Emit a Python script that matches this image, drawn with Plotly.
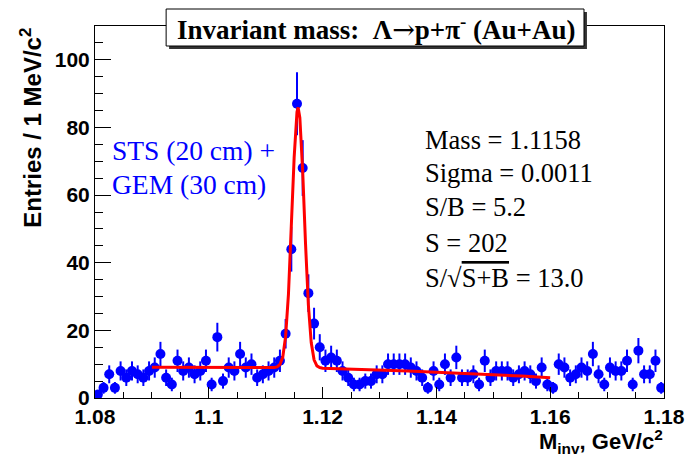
import numpy as np
import plotly.graph_objects as go

# ---- data ----
hist_low = 1.080      # GeV/c^2, lower edge of first bin
bin_width = 0.001     # 1 MeV bins
counts = [1, 3, 7, 3, 8, 6, 8, 7, 6, 8,
          9, 13, 6, 4, 11, 8, 9, 7, 8, 11,
          4, 18, 5, 9, 8, 13, 9, 10, 6, 7,
          8, 9, 11, 19, 44, 87, 68, 31, 22, 15,
          11, 12, 11, 8, 6, 4, 4, 5, 5, 7,
          7, 10, 10, 10, 10, 9, 8, 6, 3, 8,
          4, 10, 6, 12, 6, 6, 7, 4, 11, 6,
          8, 8, 8, 6, 7, 8, 7, 5, 9, 4,
          3, 10, 9, 6, 7, 9, 8, 13, 7, 4,
          9, 8, 8, 11, 4, 14, 7, 7, 11, 3]

fit_x = [1.090, 1.100, 1.105, 1.110, 1.1115, 1.112, 1.1125, 1.113, 1.1135, 1.114,
         1.1145, 1.115, 1.1155, 1.1157, 1.116, 1.1165, 1.117, 1.1175, 1.118, 1.1185,
         1.119, 1.1195, 1.120, 1.125, 1.130, 1.135, 1.140, 1.145, 1.150, 1.155, 1.160]
fit_y = [9.1, 9.05, 9.0, 9.0, 9.0, 9.2, 9.9, 12.1, 18.2, 30.7,
         50.0, 71.1, 84.6, 85.9, 82.9, 67.0, 45.6, 27.5, 16.4, 11.3,
         9.5, 9.0, 8.8, 8.6, 8.4, 8.0, 7.6, 7.3, 6.9, 6.5, 6.0]

x_ticks = [1.08, 1.10, 1.12, 1.14, 1.16, 1.18]
x_labels = ["1.08", "1.1", "1.12", "1.14", "1.16", "1.18"]
y_ticks = [0, 20, 40, 60, 80, 100]
y_labels = ["0", "20", "40", "60", "80", "100"]

title_text = ("<b>Invariant mass:  Λ<span style='font-family:DejaVu Serif;font-weight:normal'>→</span>"
              "p+π<sup>-</sup> (Au+Au)</b>")
stats_lines = ["Mass = 1.1158", "Sigma = 0.0011", "S/B = 5.2", "S = 202",
               "S/√<span style='text-decoration:overline'>S+B</span> = 13.0"]
label_lines = ["STS (20 cm) +", "GEM (30 cm)"]

# ---- derived ----
centers = hist_low + bin_width * (np.arange(len(counts)) + 0.5)
errors = np.sqrt(np.array(counts, dtype=float))

BLUE = "#0000ff"
RED = "#ff0000"
SANS = "Liberation Sans"
SERIF = "Liberation Serif"

fig = go.Figure()
fig.add_trace(go.Scatter(
    x=centers, y=counts, mode="markers",
    marker=dict(color=BLUE, size=10, symbol="circle"),
    error_y=dict(type="data", array=errors, visible=True, color=BLUE,
                 thickness=2, width=0),
    showlegend=False, hoverinfo="skip"))
fig.add_trace(go.Scatter(
    x=fit_x, y=fit_y, mode="lines",
    line=dict(color=RED, width=3),
    showlegend=False, hoverinfo="skip"))

W, H = 697, 459
L, R, T, B = 95, 26, 26, 61
pw, ph = W - L - R, H - T - B


def px(xp):
    return (xp - L) / pw


def py(yp):
    return (H - B - yp) / ph


axis_common = dict(showline=True, linecolor="black", linewidth=1, mirror=True,
                   ticks="inside", tickcolor="black", showgrid=False,
                   zeroline=False,
                   tickfont=dict(family=SANS, size=21, color="black", weight="bold"))

fig.update_xaxes(range=[1.08, 1.18], tickvals=x_ticks, ticktext=x_labels,
                 ticklen=11, tickwidth=1,
                 minor=dict(ticks="inside", dtick=0.005, ticklen=6,
                            tickcolor="black", tickwidth=1),
                 **axis_common)
fig.update_yaxes(range=[0, 110], tickvals=y_ticks, ticktext=y_labels,
                 ticklen=16, tickwidth=1,
                 minor=dict(ticks="inside", dtick=5, ticklen=8,
                            tickcolor="black", tickwidth=1),
                 **axis_common)

shapes = [
    # title box shadow
    dict(type="rect", xref="paper", yref="paper",
         x0=px(170), x1=px(593), y0=py(49), y1=py(12),
         fillcolor="#333333", line=dict(width=0), layer="above"),
    # title box
    dict(type="rect", xref="paper", yref="paper",
         x0=px(167), x1=px(590), y0=py(46), y1=py(9),
         fillcolor="white", line=dict(color="black", width=1), layer="above"),
]

annotations = [
    dict(text=title_text, xref="paper", yref="paper", x=px(379), y=py(28),
         xanchor="center", yanchor="middle", showarrow=False,
         font=dict(family=SERIF, size=27, color="black")),
    dict(text="<b>Entries / 1 MeV/c<sup>2</sup></b>", xref="paper", yref="paper",
         x=px(30), y=py(26), xanchor="center", yanchor="top", textangle=-90,
         showarrow=False, font=dict(family=SANS, size=24, color="black")),
    dict(text="<b>M<sub>inv</sub>, GeV/c<sup>2</sup></b>", xref="paper", yref="paper",
         x=px(672), y=py(442), xanchor="right", yanchor="middle",
         showarrow=False, font=dict(family=SANS, size=22, color="black")),
]
stat_y = [140, 173, 207, 243, 278]
for txt, yy in zip(stats_lines, stat_y):
    annotations.append(dict(text=txt, xref="paper", yref="paper", x=px(427), y=py(yy),
                            xanchor="left", yanchor="middle", showarrow=False,
                            font=dict(family=SERIF, size=26.5, color="black")))
lab_y = [150, 185]
for txt, yy in zip(label_lines, lab_y):
    annotations.append(dict(text=txt, xref="paper", yref="paper", x=px(110), y=py(yy),
                            xanchor="left", yanchor="middle", showarrow=False,
                            font=dict(family=SERIF, size=27.5, color=BLUE)))

fig.update_layout(width=W, height=H, margin=dict(l=L, r=R, t=T, b=B),
                  paper_bgcolor="white", plot_bgcolor="white",
                  shapes=shapes, annotations=annotations)

fig.write_html("out.html", include_plotlyjs=True)
